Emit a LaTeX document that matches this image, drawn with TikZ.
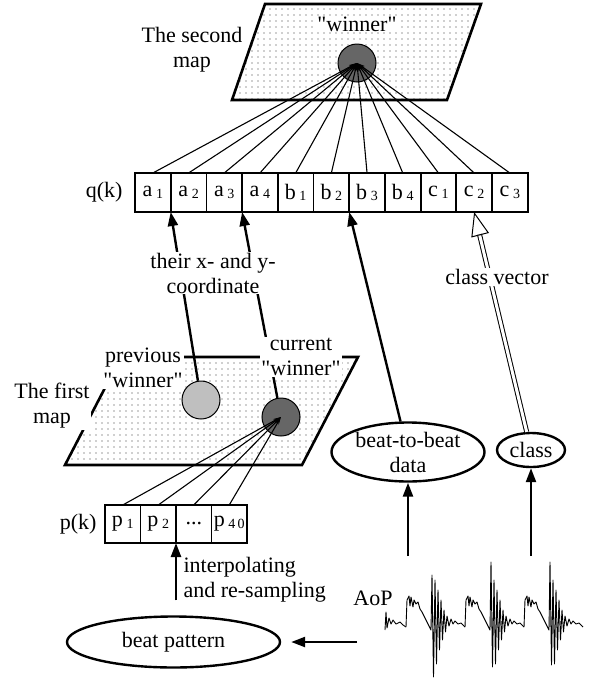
\documentclass[tikz,border=0pt]{standalone}
\usepackage{fontspec}
\setmainfont{Liberation Serif}[Ligatures=TeXOff]
\usetikzlibrary{shapes.geometric, arrows.meta, positioning, patterns.meta, calc}

% small index digits in the vector cells
\newcommand{\idx}[1]{\,\raisebox{-1.5pt}{\fontsize{14}{14}\selectfont #1}}

\tikzset{
  cell/.style={draw, line width=1.8pt, minimum width=35.7pt, minimum height=39pt,
    inner sep=0pt, outer sep=0pt},
  pcell/.style={cell, minimum width=35.5pt, minimum height=38pt},
  mapsheet/.style={draw, line width=2.6pt, pattern={Dots[distance=6pt, radius=0.7pt]},
    pattern color=black!80},
  winner/.style={circle, draw, line width=1pt, minimum size=38pt, inner sep=0pt, fill=#1},
  lbl/.style={align=center, fill=white, inner sep=1pt},
  oval/.style={ellipse, draw, line width=2.4pt, align=center, inner sep=0pt},
  link/.style={line width=1.1pt, -{Stealth[length=8pt, width=4pt]}},
  flow/.style={line width=2.4pt, -{Triangle[length=14pt, width=10pt]}},
  dbl/.style={double, double distance=3pt, line width=1pt},
  hollow/.style={line width=1pt, -{Triangle[open, length=24pt, width=18pt]}},
  wave/.style={line width=0.9pt, line join=round}
}

\begin{document}
\begin{tikzpicture}[x=1pt, y=-1pt, font=\fontsize{22}{25}\selectfont]
\useasboundingbox (0,0) rectangle (590,681);

% second map
\draw[mapsheet] (265,4) -- (481,4) -- (447,100) -- (232,100) -- cycle;
\node[winner=black!60] (win2) at (357,63) {};
\node[lbl] (win2lbl) at (357,24) {"winner"};
\node[align=center] (map2lbl) at (192,50) {The second\\map};

% q(k) vector
\foreach \l/\d [count=\i] in {a/1,a/2,a/3,a/4,b/1,b/2,b/3,b/4,c/1,c/2,c/3}
  \node[cell] (\l\d) at ({135+35.7*(\i-0.5)},192.5) {\l\idx{\d}};
\node[left=9pt of a1] (qlbl) {q(k)};
\foreach \c in {a1,a2,a3,a4,b1,b2,b3,b4,c1,c2,c3}
  \draw[link] (\c.north) -- (win2.center);

% first map
\draw[mapsheet] (121,357) -- (358,357) -- (302,465) -- (65,465) -- cycle;
\node[winner=black!25] (prev) at (201,400) {};
\node[winner=black!60] (curr) at (281,417) {};

% p(k) vector
\node[pcell] (p1) at (122.75,524) {p\idx{1}};
\node[pcell, right=0pt of p1] (p2) {p\idx{2}};
\node[pcell, right=0pt of p2] (p3) {...};
\node[pcell, right=0pt of p3] (p40) {p\idx{4\,0}};
\node[left=5pt of p1] (plbl) {p(k)};
\foreach \c in {p1,p2,p3,p40}
  \draw[link] (\c.north) -- (curr.center);

% winner coordinates into q(k)
\draw[flow] (prev) -- (a1.south east);
\draw[flow] (curr) -- (a3.south east);

\node[lbl] (prevlbl) at (143,368) {previous\\"winner"};
\node[lbl] (currlbl) at (301,357) {current\\"winner"};
\node[lbl] (map1lbl) at (52,406) {The first\\map};
\node[lbl] (xylbl) at (213,273) {their x- and y-\\coordinate};

% ovals
\node[oval, minimum width=213pt, minimum height=51pt] (bp) at (173.5,642) {beat pattern};
\node[oval, minimum width=153pt, minimum height=59pt, inner ysep=-4pt] (bbd) at (408,452)
  {beat-to-beat\\data};
\node[oval, minimum width=68pt, minimum height=34pt] (cls) at (531,450) {class};

\coordinate (bptop) at ([yshift=15pt]bp.north);
\draw[flow] (bptop -| p2.south east) -- (p2.south east);
\node[anchor=west, align=left] (interp) at (180,580) {interpolating\\and re-sampling};

\draw[flow] (bbd) -- (b2.south east);
\draw[dbl, shorten >=23pt] (cls) -- (c2.south);
\draw[hollow] ($(c2.south)!24pt!(cls.north)$) -- (c2.south);
\node[lbl] (cvlbl) at (497,277) {class vector};

% AoP signal
\node (aoplbl) at (373,598) {AoP};
\coordinate (sigin) at (357,642);
\coordinate (sigtop) at (470,556);
\draw[flow, shorten >=10pt] (sigin) -- (bp);
\draw[flow] (sigtop -| bbd) -- (bbd);
\draw[flow] (sigtop -| cls) -- (cls);

\draw[wave] (385,630) -- (386,612) -- (387,628) -- (389,618) -- (391,624) -- (393,620)
  -- (396,624) -- (400,622) -- (403,625) -- (406,627);
\foreach \o/\t/\b in {406/575/677, 465/562/667, 524/562/665}
  \draw[wave, shift={(\o,0)}] plot coordinates {(0,627) (1,600) (3,596) (4,606) (5,597)
    (7,607) (8,600) (10,604) (12,602) (14,609) (16,612) (19,618) (21,622) (23,626)
    (25,630) (26,\t) (27.5,\b) (29,580) (30.5,664) (32,590) (33.5,650) (35,600)
    (36.5,640) (38,610) (39.5,632) (41,616) (43,626) (45,619) (47,624) (49,621)
    (52,624) (55,623) (59,627)};
\end{tikzpicture}
\end{document}
